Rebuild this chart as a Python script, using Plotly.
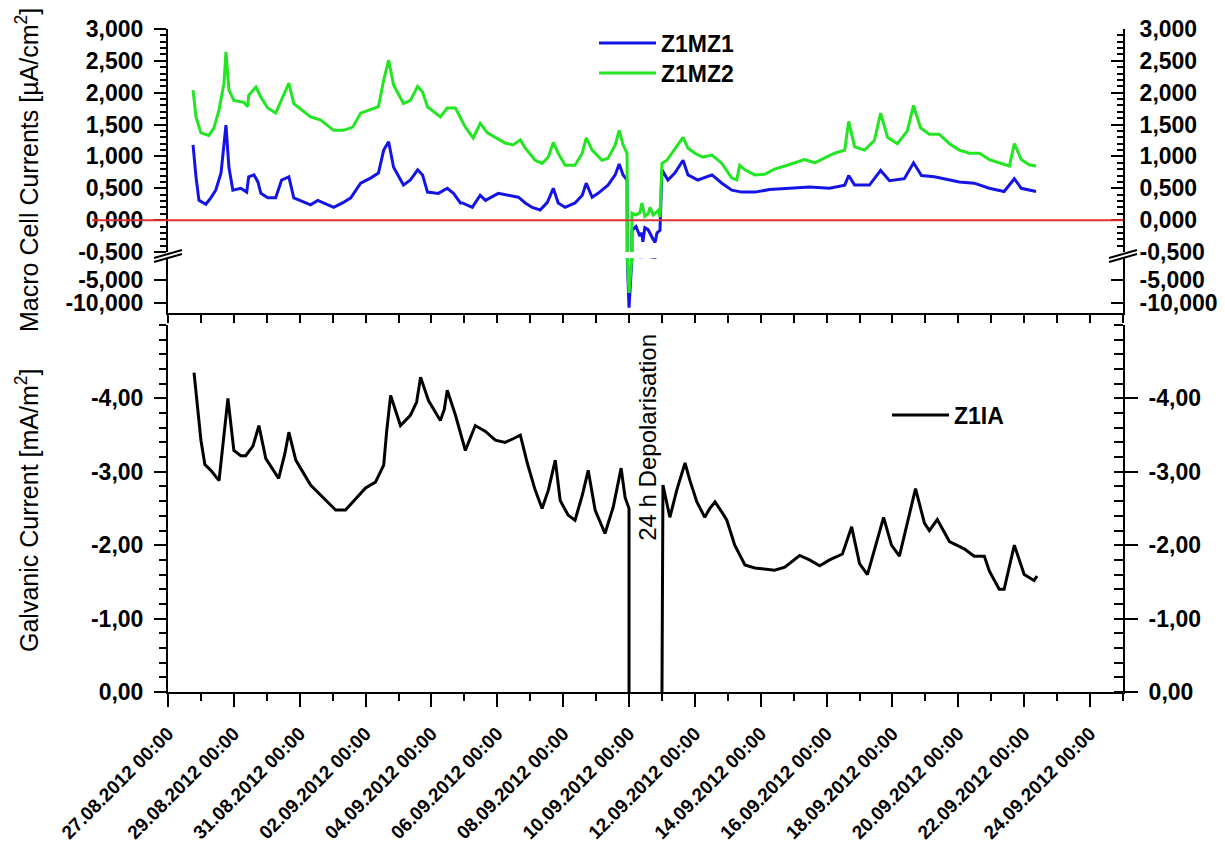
import plotly.graph_objects as go
import pandas as pd

START = pd.Timestamp("2012-08-27 00:00")

# ---------------- data (elapsed days since 27.08.2012 00:00) ----------------
mz1_days = [0.76, 0.85, 0.94, 1.15, 1.30, 1.45, 1.61, 1.76, 1.85, 1.97, 2.21, 2.39, 2.45, 2.61, 2.73, 2.82,
            3.03, 3.27, 3.45, 3.67, 3.82, 4.12, 4.33, 4.55, 4.73, 5.03, 5.30, 5.55, 5.85, 6.15, 6.39, 6.55,
            6.70, 6.85, 7.15, 7.36, 7.58, 7.73, 7.88, 8.21, 8.48, 8.67, 8.88, 8.94, 9.24, 9.48, 9.64, 10.03,
            10.33, 10.64, 10.85, 11.06, 11.30, 11.52, 11.70, 11.85, 12.06, 12.36, 12.58, 12.70, 12.88, 13.06,
            13.36, 13.58, 13.70, 13.82, 13.94, 14.00, 14.09, 14.21, 14.33, 14.39, 14.42, 14.48, 14.58, 14.64,
            14.73, 14.79, 14.85, 14.94, 15.00, 15.18, 15.39, 15.64, 15.79, 16.09, 16.52, 16.82, 17.12, 17.42,
            17.82, 18.27, 18.88, 19.48, 20.09, 20.55, 20.67, 20.85, 21.30, 21.64, 21.91, 22.36, 22.64, 22.88,
            23.27, 23.58, 24.03, 24.48, 24.94, 25.39, 25.70, 25.91, 26.36]
mz1_vals = [1.18, 0.68, 0.31, 0.25, 0.35, 0.47, 0.74, 1.49, 0.83, 0.47, 0.50, 0.44, 0.68, 0.71, 0.60, 0.42,
            0.35, 0.35, 0.63, 0.68, 0.35, 0.28, 0.24, 0.31, 0.27, 0.20, 0.27, 0.35, 0.58, 0.66, 0.74, 1.10,
            1.23, 0.83, 0.55, 0.63, 0.79, 0.71, 0.44, 0.42, 0.50, 0.42, 0.27, 0.27, 0.20, 0.39, 0.31, 0.42,
            0.39, 0.36, 0.27, 0.20, 0.16, 0.28, 0.50, 0.27, 0.20, 0.27, 0.39, 0.58, 0.36, 0.42,
            0.55, 0.71, 0.88, 0.71, 0.63, -10.9, -0.16, -0.10, -0.25, -0.20, -0.34, -0.12, -0.15, -0.22,
            -0.30, -0.35, -0.20, -0.16, 0.79, 0.63, 0.74, 0.94, 0.71, 0.63, 0.71, 0.58, 0.47, 0.44,
            0.44, 0.48, 0.50, 0.52, 0.50, 0.55, 0.70, 0.55, 0.55, 0.78, 0.62, 0.65, 0.90, 0.70,
            0.68, 0.65, 0.60, 0.58, 0.50, 0.45, 0.65, 0.50, 0.45]

mz2_days = [0.76, 0.85, 1.00, 1.24, 1.39, 1.55, 1.70, 1.76, 1.85, 2.00, 2.30, 2.42, 2.45, 2.67, 2.82, 3.03,
            3.27, 3.48, 3.67, 3.82, 4.12, 4.33, 4.64, 4.85, 5.03, 5.33, 5.61, 5.85, 6.15, 6.39, 6.55, 6.70,
            6.85, 7.15, 7.36, 7.58, 7.73, 7.88, 8.27, 8.48, 8.73, 9.03, 9.27, 9.48, 9.70, 9.94, 10.24, 10.48,
            10.70, 10.85, 11.15, 11.36, 11.55, 11.70, 11.85, 12.06, 12.36, 12.58, 12.70, 12.88, 13.18, 13.36,
            13.58, 13.70, 13.82, 13.94, 14.00, 14.09, 14.21, 14.33, 14.39, 14.48, 14.58, 14.64, 14.73, 14.82,
            14.88, 14.94, 15.00, 15.15, 15.30, 15.48, 15.64, 15.79, 16.00, 16.24, 16.52, 16.82, 17.12, 17.27,
            17.36, 17.52, 17.82, 18.12, 18.42, 18.73, 19.03, 19.33, 19.64, 19.94, 20.24, 20.55, 20.67, 20.85,
            21.15, 21.45, 21.64, 21.85, 22.15, 22.45, 22.64, 22.85, 23.12, 23.42, 23.73, 24.03, 24.33, 24.64,
            24.94, 25.24, 25.55, 25.70, 25.91, 26.15, 26.36]
mz2_vals = [2.04, 1.62, 1.37, 1.33, 1.44, 1.73, 2.15, 2.64, 2.04, 1.88, 1.85, 1.78, 1.96, 2.09, 1.93, 1.76,
            1.68, 1.93, 2.15, 1.83, 1.70, 1.62, 1.57, 1.49, 1.41, 1.41, 1.46, 1.68, 1.73, 1.78, 2.20, 2.51,
            2.12, 1.83, 1.88, 2.10, 2.01, 1.78, 1.62, 1.76, 1.76, 1.46, 1.29, 1.52, 1.37, 1.30, 1.21, 1.18,
            1.26, 1.13, 0.94, 0.89, 0.99, 1.22, 1.05, 0.86, 0.86, 1.05, 1.29, 1.10, 0.94, 0.97,
            1.18, 1.41, 1.18, 1.05, -7.8, 0.11, 0.08, 0.12, 0.27, 0.06, 0.10, 0.20, 0.08, 0.12,
            0.15, 0.05, 0.89, 0.94, 1.05, 1.18, 1.30, 1.13, 1.05, 0.99, 1.02, 0.89, 0.66, 0.63,
            0.86, 0.79, 0.71, 0.72, 0.80, 0.85, 0.90, 0.95, 0.90, 0.98, 1.05, 1.10, 1.55, 1.15,
            1.10, 1.25, 1.68, 1.30, 1.20, 1.40, 1.80, 1.45, 1.35, 1.35, 1.20, 1.10, 1.05, 1.05,
            0.95, 0.90, 0.85, 1.20, 0.95, 0.87, 0.85]

ia_days = [0.79, 1.00, 1.12, 1.30, 1.55, 1.64, 1.82, 2.00, 2.21, 2.36, 2.58, 2.76, 2.97, 3.36, 3.55, 3.67,
           3.88, 4.33, 4.79, 5.09, 5.39, 5.70, 6.00, 6.30, 6.55, 6.64, 6.76, 7.06, 7.36, 7.55, 7.67, 7.91,
           8.27, 8.39, 8.48, 8.73, 9.03, 9.33, 9.64, 9.94, 10.24, 10.48, 10.70, 10.91, 11.15, 11.36, 11.55,
           11.76, 11.91, 12.15, 12.36, 12.58, 12.76, 12.97, 13.27, 13.52, 13.76, 13.88, 14.00, 14.00, 14.50,
           15.00, 15.03, 15.24, 15.45, 15.70, 15.85, 16.06, 16.30, 16.45, 16.61, 16.82, 16.97, 17.21, 17.52,
           17.82, 18.42, 18.73, 19.18, 19.48, 19.79, 20.09, 20.48, 20.76, 21.00, 21.24, 21.73, 21.97, 22.21,
           22.70, 22.97, 23.12, 23.36, 23.73, 24.18, 24.48, 24.79, 24.94, 25.24, 25.39, 25.70, 26.00, 26.30,
           26.39]
ia_vals = [-4.35, -3.43, -3.10, -3.02, -2.88, -3.25, -4.00, -3.29, -3.22, -3.22, -3.35, -3.63, -3.18, -2.91,
           -3.25, -3.54, -3.16, -2.82, -2.61, -2.48, -2.48, -2.64, -2.78, -2.86, -3.09, -3.55, -4.04, -3.63,
           -3.77, -3.95, -4.29, -3.97, -3.70, -3.85, -4.11, -3.77, -3.29, -3.63, -3.55, -3.43, -3.40, -3.45,
           -3.50, -3.12, -2.75, -2.50, -2.75, -3.16, -2.61, -2.41, -2.34, -2.68, -3.02, -2.48, -2.16, -2.52,
           -3.05, -2.65, -2.50, 0.0, None, 0.0, -2.82, -2.38, -2.75, -3.12, -2.88, -2.59, -2.38, -2.50, -2.59,
           -2.45, -2.34, -2.00, -1.73, -1.69, -1.66, -1.70, -1.86, -1.80, -1.72, -1.80, -1.88, -2.25, -1.75,
           -1.60, -2.38, -2.00, -1.85, -2.77, -2.30, -2.20, -2.35, -2.05, -1.95, -1.85, -1.85, -1.65, -1.40,
           -1.40, -2.00, -1.60, -1.52, -1.58]

upper_ticks = [-0.5, 0.0, 0.5, 1.0, 1.5, 2.0, 2.5, 3.0]
upper_labels = ["-0,500", "0,000", "0,500", "1,000", "1,500", "2,000", "2,500", "3,000"]
lower_ticks = [-5.0, -10.0]
lower_labels = ["-5,000", "-10,000"]
ia_ticks = [0.0, -1.0, -2.0, -3.0, -4.0]
ia_labels = ["0,00", "-1,00", "-2,00", "-3,00", "-4,00"]

# ---------------- geometry (page pixels; the page body has an 8 px margin) ----------------
OFF = 8
PL, PR, PT, PB = 168, 1123, 29, 692
W, H = 1225, 843


def px_x(px):
    return (px - PL) / (PR - PL)


def px_y(py):
    return (PB - py) / (PB - PT)


def to_time(days):
    return [START + pd.Timedelta(days=d) for d in days]


FONT = "Liberation Sans, Arial, sans-serif"
BLUE = "#1414e6"
GREEN = "#22e622"
DAY = 86400000

fig = go.Figure()

for (ya, show) in (("y3", True), ("y2", False)):
    fig.add_trace(go.Scatter(x=to_time(mz1_days), y=mz1_vals, mode="lines", name="Z1MZ1",
                             line=dict(color=BLUE, width=3), xaxis="x2", yaxis=ya,
                             showlegend=show, legend="legend"))
    fig.add_trace(go.Scatter(x=to_time(mz2_days), y=mz2_vals, mode="lines", name="Z1MZ2",
                             line=dict(color=GREEN, width=3), xaxis="x2", yaxis=ya,
                             showlegend=show, legend="legend3"))

fig.add_trace(go.Scatter(x=to_time(ia_days), y=ia_vals, mode="lines", name="Z1IA",
                         line=dict(color="black", width=3), xaxis="x", yaxis="y",
                         legend="legend2"))

# empty traces so that the right-hand (mirror) axes get drawn
for xa, ya in (("x", "y4"), ("x2", "y5"), ("x2", "y6")):
    fig.add_trace(go.Scatter(x=[START], y=[None], mode="lines", xaxis=xa, yaxis=ya,
                             showlegend=False, hoverinfo="skip"))

ytick_font = dict(family=FONT, size=23, color="black", weight="bold")
common_y = dict(showline=True, linecolor="black", linewidth=2, tickcolor="black", tickwidth=2,
                showgrid=False, zeroline=False, tickmode="array", tickfont=ytick_font)

dom_bottom = [0, px_y(325)]
dom_low = [px_y(313), px_y(258)]
dom_up = [px_y(252), 1.0]
rng_bottom = [0, -5]
rng_low = [-12, -0.5]
rng_up = [-0.5, 3.0]

legend_font = dict(family=FONT, size=23, color="black", weight="bold")

fig.update_layout(
    width=W - OFF, height=H - OFF,
    margin=dict(l=PL - OFF, r=W - PR, t=PT - OFF, b=H - PB, autoexpand=False),
    paper_bgcolor="white", plot_bgcolor="white",
    font=dict(family=FONT, color="black"),
    xaxis=dict(anchor="y", domain=[0, 1], type="date",
               range=[START, START + pd.Timedelta(days=29)],
               tick0=START, dtick=2 * DAY, tickformat="%d.%m.%Y %H:%M", tickangle=-45,
               ticks="outside", ticklen=13, tickwidth=2, tickcolor="black", ticklabelstandoff=8,
               minor=dict(dtick=DAY, tick0=START, ticks="outside", ticklen=7, tickwidth=2,
                          tickcolor="black"),
               showline=True, linecolor="black", linewidth=2, showgrid=False, zeroline=False,
               tickfont=dict(family=FONT, size=19, color="black", weight="bold")),
    xaxis2=dict(anchor="y2", domain=[0, 1], type="date", matches="x", showticklabels=False,
                tick0=START, dtick=DAY, ticks="outside", ticklen=8, tickwidth=2, tickcolor="black",
                showline=True, linecolor="black", linewidth=2, showgrid=False, zeroline=False),
    yaxis=dict(common_y, domain=dom_bottom, range=rng_bottom, anchor="x",
               tickvals=ia_ticks, ticktext=ia_labels, ticks="outside", ticklen=12,
               ticklabelstandoff=6,
               minor=dict(tickmode="linear", tick0=0, dtick=0.2, ticks="outside", ticklen=7,
                          tickwidth=2, tickcolor="black")),
    yaxis4=dict(common_y, domain=dom_bottom, range=rng_bottom, anchor="x", overlaying="y",
                side="right", tickvals=ia_ticks, ticktext=ia_labels, ticks="outside", ticklen=13,
                ticklabelstandoff=6,
                minor=dict(tickmode="linear", tick0=0, dtick=0.2, ticks="inside", ticklen=9,
                           tickwidth=2, tickcolor="black")),
    yaxis2=dict(common_y, domain=dom_low, range=rng_low, anchor="x2",
                tickvals=lower_ticks, ticktext=lower_labels, ticks="outside", ticklen=12,
                ticklabelstandoff=6),
    yaxis5=dict(common_y, domain=dom_low, range=rng_low, anchor="x2", overlaying="y2",
                side="right", tickvals=lower_ticks, ticktext=lower_labels, ticks="inside",
                ticklen=12, ticklabelstandoff=10),
    yaxis3=dict(common_y, domain=dom_up, range=rng_up, anchor="x2",
                tickvals=upper_ticks, ticktext=upper_labels, ticks="outside", ticklen=12,
                ticklabelstandoff=6,
                minor=dict(tickmode="linear", tick0=0, dtick=0.1, ticks="outside", ticklen=6,
                           tickwidth=1.5, tickcolor="black")),
    yaxis6=dict(common_y, domain=dom_up, range=rng_up, anchor="x2", overlaying="y3",
                side="right", tickvals=upper_ticks, ticktext=upper_labels, ticks="inside",
                ticklen=12, ticklabelstandoff=10,
                minor=dict(tickmode="linear", tick0=0, dtick=0.1, ticks="inside", ticklen=6,
                           tickwidth=1.5, tickcolor="black")),
    legend=dict(x=px_x(594), y=px_y(43), xanchor="left", yanchor="middle",
                bgcolor="rgba(0,0,0,0)", font=legend_font, itemwidth=57),
    legend3=dict(x=px_x(594), y=px_y(73), xanchor="left", yanchor="middle",
                 bgcolor="rgba(0,0,0,0)", font=legend_font, itemwidth=57),
    legend2=dict(x=px_x(887), y=px_y(415), xanchor="left", yanchor="middle",
                 bgcolor="rgba(0,0,0,0)", font=legend_font, itemwidth=57),
)

# zero line of the macro cell currents (extends through the 0,000 label)
fig.add_shape(type="line", xref="paper", yref="y3", x0=px_x(92), x1=1.0, y0=0, y1=0,
              line=dict(color="#e03030", width=2), layer="above")

# axis-break marks
for bx in (PL, PR):
    for dy in (0, 4):
        fig.add_shape(type="line", xref="paper", yref="paper",
                      x0=px_x(bx - 14), x1=px_x(bx + 14),
                      y0=px_y(258 + dy), y1=px_y(250 + dy),
                      line=dict(color="black", width=2))

# axis titles
fig.add_annotation(xref="paper", yref="paper", x=px_x(27), y=px_y(170), xanchor="center",
                   yanchor="middle", text="Macro Cell Currents [µA/cm<sup>2</sup>]", textangle=-90,
                   showarrow=False, font=dict(family=FONT, size=25, color="black"))
fig.add_annotation(xref="paper", yref="paper", x=px_x(27), y=px_y(511), xanchor="center",
                   yanchor="middle", text="Galvanic Current [mA/m<sup>2</sup>]", textangle=-90,
                   showarrow=False, font=dict(family=FONT, size=25, color="black"))

# depolarisation note
fig.add_annotation(xref="x", yref="y", x=START + pd.Timedelta(days=14.56), y=-3.47,
                   xanchor="center", yanchor="middle",
                   text="24 h Depolarisation", textangle=-90, showarrow=False,
                   font=dict(family=FONT, size=24, color="black"))

fig.write_html("out.html")
